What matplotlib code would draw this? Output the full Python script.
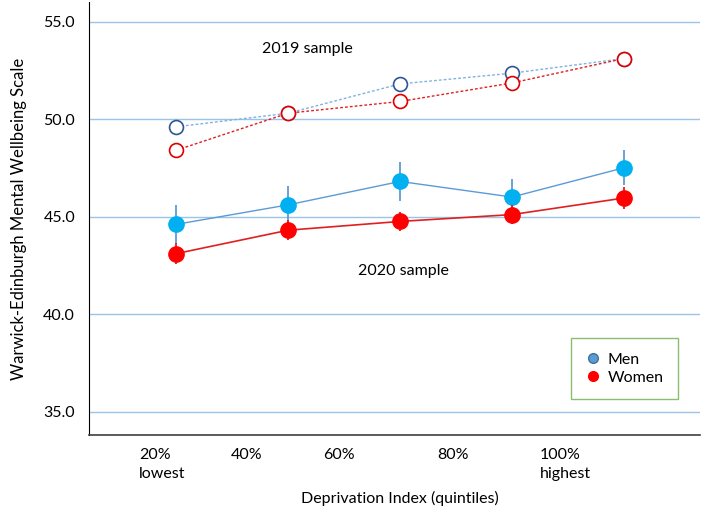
import matplotlib
matplotlib.use('Agg')
import matplotlib.pyplot as plt
from matplotlib.lines import Line2D

plt.rcParams['font.family'] = ['Lato', 'DejaVu Sans']

# quintiles of the deprivation index
quintiles = ['20%\nlowest', '40%', '60%', '80%', '100%\nhighest']

# 2019 sample (open circles, dotted lines)
men_2019 = [49.6, 50.3, 51.8, 52.35, 53.1]
women_2019 = [48.4, 50.3, 50.9, 51.85, 53.1]

# 2020 sample (filled circles with error bars)
men_2020 = [44.6, 45.6, 46.8, 46.0, 47.5]
men_2020_err = [1.0, 0.95, 1.0, 0.9, 0.9]
women_2020 = [43.1, 44.3, 44.75, 45.1, 45.95]
women_2020_err = [0.55, 0.5, 0.5, 0.5, 0.55]

x = list(range(len(quintiles)))

fig = plt.figure(figsize=(7.11, 5.09), dpi=100)
ax = fig.add_axes([89 / 711, 74 / 509, 611 / 711, 433 / 509])

grid_col = '#9DC3E6'
for v in [35, 40, 45, 50, 55]:
    ax.axhline(v, color=grid_col, lw=1.0, zorder=0)

# 2019 lines
ax.plot(x, men_2019, ls=(0, (2, 1.5)), color='#7FB2E0', lw=1.0,
        marker='o', ms=10, mfc='white', mec='#2F5597', mew=1.2, zorder=3)
ax.plot(x, women_2019, ls=(0, (2, 1.5)), color='#E02020', lw=1.0,
        marker='o', ms=10, mfc='white', mec='#E00000', mew=1.2, zorder=4)

# 2020 lines
ax.errorbar(x, men_2020, yerr=men_2020_err, color='#5B9BD5', lw=1.0,
            elinewidth=1.3, capsize=0, marker='o', ms=11,
            mfc='#00B0F0', mec='#00B0F0', zorder=5)
ax.errorbar(x, women_2020, yerr=women_2020_err, color='#E02020', lw=1.2,
            elinewidth=1.3, capsize=0, marker='o', ms=11,
            mfc='#FF0000', mec='#FF0000', zorder=6)

ax.text(1.17, 53.6, '2019 sample', ha='center', va='center', fontsize=11.5)
ax.text(2.03, 42.2, '2020 sample', ha='center', va='center', fontsize=11.5)

ax.set_xlim(-0.78, 4.68)
ax.set_ylim(33.8, 56.0)
ax.set_yticks([35, 40, 45, 50, 55])
ax.set_yticklabels(['35.0', '40.0', '45.0', '50.0', '55.0'], fontsize=11.5)
ax.tick_params(axis='y', length=0, pad=10)

# x tick labels, left-aligned as in the source
ax.set_xticks([])
label_x = [-0.33, 0.49, 1.31, 2.33, 3.25]
for lx, lab in zip(label_x, quintiles):
    ax.text(lx, -0.03, lab, transform=ax.get_xaxis_transform(),
            ha='left', va='top', multialignment='left', fontsize=11.5,
            linespacing=1.45)

ax.set_xlabel('Deprivation Index (quintiles)', fontsize=11.5)
ax.xaxis.set_label_coords(0.509, -0.13)
ax.set_ylabel('Warwick-Edinburgh Mental Wellbeing Scale', fontsize=12,
              labelpad=12)

for s in ['top', 'right']:
    ax.spines[s].set_visible(False)
ax.spines['left'].set_color('black')
ax.spines['bottom'].set_color('#404040')
ax.spines['bottom'].set_linewidth(1.2)

handles = [
    Line2D([], [], ls='none', marker='o', ms=7, mfc='#5B9BD5', mec='#41719C'),
    Line2D([], [], ls='none', marker='o', ms=7, mfc='#FF0000', mec='#FF0000'),
]
leg = ax.legend(handles, ['Men', 'Women'], loc='lower right',
                bbox_to_anchor=(0.964, 0.083), borderaxespad=0,
                fontsize=11.5, frameon=True, fancybox=False,
                handletextpad=0.4, borderpad=0.9, labelspacing=0.25,
                handlelength=1.0)
leg.get_frame().set_edgecolor('#70AD47')
leg.get_frame().set_linewidth(1.0)

fig.savefig('out.png', dpi=100)
